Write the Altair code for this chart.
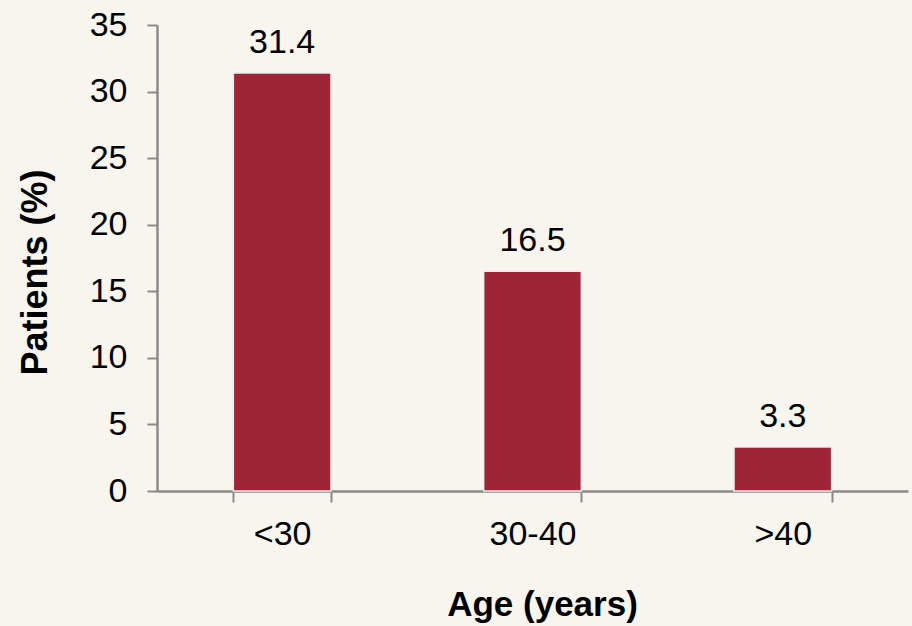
import altair as alt
import pandas as pd

# Share of patients by age group
age_groups = ["<30", "30-40", ">40"]
patients_pct = [31.4, 16.5, 3.3]

df = pd.DataFrame({"age": age_groups, "pct": patients_pct})

FONT = "Liberation Sans"
AXIS_GRAY = "#8a8a8a"

x_enc = alt.X(
    "age:N",
    sort=age_groups,
    scale=alt.Scale(paddingInner=0.61, paddingOuter=0.305),
    axis=alt.Axis(
        title="Age (years)",
        labelAngle=0,
        tickBand="extent",
        tickSize=11,
        tickWidth=2,
        tickColor=AXIS_GRAY,
        domainColor=AXIS_GRAY,
        domainWidth=2.5,
        labelFontSize=34,
        labelFont=FONT,
        labelColor="#000000",
        labelPadding=15,
        titleFont=FONT,
        titleFontSize=35,
        titleFontWeight="bold",
        titleColor="#000000",
        titleX=385,
        titleY=124,
        titleAlign="center",
        titleBaseline="alphabetic",
        grid=False,
    ),
)

y_enc = alt.Y(
    "pct:Q",
    scale=alt.Scale(domain=[0, 35], nice=False),
    axis=alt.Axis(
        title="Patients (%)",
        values=[0, 5, 10, 15, 20, 25, 30, 35],
        tickSize=10,
        tickWidth=2,
        tickColor=AXIS_GRAY,
        domainColor=AXIS_GRAY,
        domainWidth=2.5,
        labelFontSize=34,
        labelFont=FONT,
        labelColor="#000000",
        labelPadding=20,
        titleFont=FONT,
        titleFontSize=36,
        titleFontWeight="bold",
        titleColor="#000000",
        titleX=-111,
        titleY=247,
        titleAngle=-90,
        titleBaseline="alphabetic",
        titleAlign="center",
        grid=False,
    ),
)

bars = alt.Chart(df).mark_bar(
    color="#9E2536", stroke="#ececec", strokeWidth=1.5
).encode(x=x_enc, y=y_enc)

labels = alt.Chart(df).mark_text(
    font=FONT, fontSize=34, color="#000000", baseline="alphabetic", dy=-20
).encode(
    x=alt.X("age:N", sort=age_groups),
    y="pct:Q",
    text=alt.Text("pct:Q", format=".1f"),
)

chart = (
    alt.layer(bars, labels)
    .properties(
        width=751,
        height=466,
        background="#F8F5EE",
        padding={"left": 157, "top": 25, "right": 4, "bottom": 135},
        autosize=alt.AutoSizeParams(type="none"),
    )
    .configure_view(stroke=None)
)

chart.save("out.html", embed_options={"renderer": "svg", "actions": False})
